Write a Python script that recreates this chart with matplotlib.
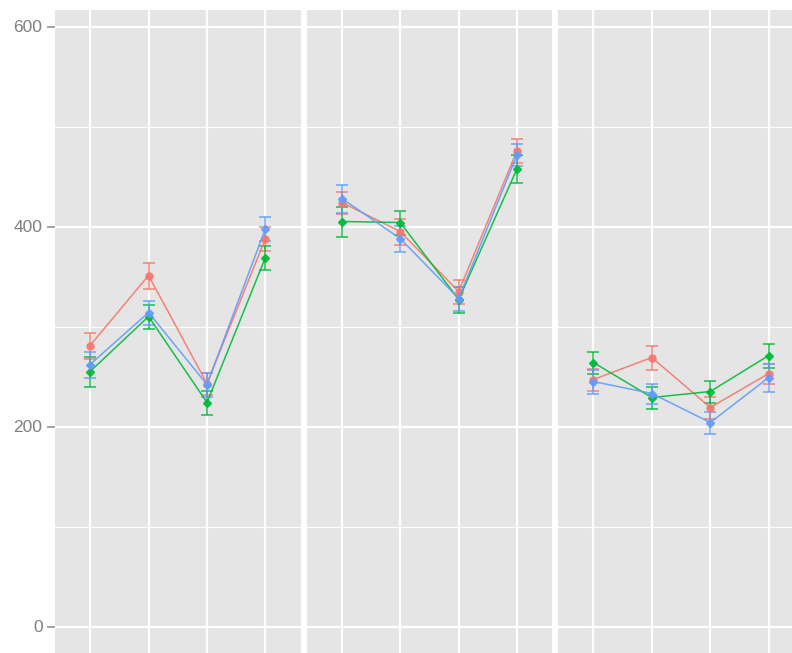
import matplotlib
matplotlib.use("Agg")
import matplotlib.pyplot as plt
from matplotlib.ticker import MultipleLocator

# Four conditions per panel, three groups per condition
categories = ["A", "B", "C", "D"]
groups = ["g1", "g2", "g3"]
colors = ["#F8766D", "#00BA38", "#619CFF"]
markers = ["o", "D", "D"]

# panel -> group -> mean values
panel1_means = {"g1": [281, 351, 243, 388], "g2": [255, 310, 224, 369], "g3": [262, 314, 242, 398]}
panel1_errs = {"g1": [13, 13, 11, 12], "g2": [15, 12, 12, 12], "g3": [13, 12, 12, 12]}

panel2_means = {"g1": [424, 395, 335, 476], "g2": [405, 404, 327, 458], "g3": [428, 388, 328, 472]}
panel2_errs = {"g1": [11, 13, 12, 12], "g2": [15, 12, 13, 14], "g3": [14, 13, 12, 11]}

panel3_means = {"g1": [247, 269, 219, 253], "g2": [264, 229, 235, 271], "g3": [245, 233, 204, 249]}
panel3_errs = {"g1": [11, 12, 11, 10], "g2": [11, 11, 11, 12], "g3": [12, 10, 11, 14]}

y_ticks = [0, 200, 400, 600]
y_minor = [100, 300, 500]

W, H = 792, 653
fig = plt.figure(figsize=(W / 100, H / 100), dpi=100)
plt.rcParams["font.family"] = ["Liberation Sans", "DejaVu Sans"]

panel_left = [55, 306.7, 558.3]
panel_w = 245.5
top_px = 10
ymax = 616.5
ymin = ymax - (H - top_px)

panels = [(panel1_means, panel1_errs), (panel2_means, panel2_errs), (panel3_means, panel3_errs)]
x = list(range(len(categories)))

for i, (means, errs) in enumerate(panels):
    ax = fig.add_axes([panel_left[i] / W, 0, panel_w / W, (H - top_px) / H])
    ax.set_facecolor("#E5E5E5")
    for s in ax.spines.values():
        s.set_visible(False)
    ax.set_xlim(-0.6, len(categories) - 1 + 0.6)
    ax.set_ylim(ymin, ymax)
    ax.set_xticks(x)
    ax.set_yticks(y_ticks)
    ax.set_yticks(y_minor, minor=True)
    ax.grid(True, which="major", color="white", linewidth=1.6)
    ax.grid(True, which="minor", axis="y", color="white", linewidth=0.8)
    ax.set_axisbelow(True)
    ax.tick_params(axis="x", length=0, labelbottom=False)
    ax.tick_params(axis="y", which="minor", length=0)
    if i == 0:
        ax.tick_params(axis="y", which="major", length=6, width=1.1, color="#8A8A8A",
                       labelsize=12.5, labelcolor="#7F7F7F", pad=3)
    else:
        ax.tick_params(axis="y", which="major", length=0, labelleft=False)

    for g, c, m in zip(groups, colors, markers):
        ax.errorbar(x, means[g], yerr=errs[g], color=c, marker=m,
                    markersize=5 if m == "o" else 4.5, linewidth=1.1,
                    elinewidth=1.1, capsize=4.5, capthick=1.1, alpha=0.9)

fig.savefig("out.png", dpi=100)
